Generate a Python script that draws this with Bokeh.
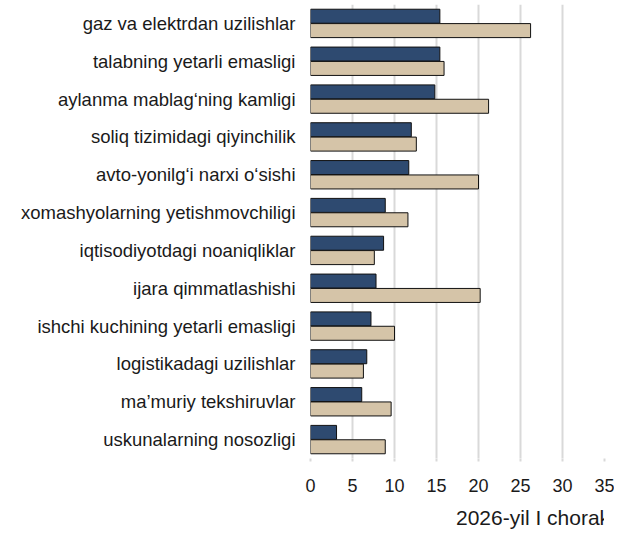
from bokeh.plotting import figure
from bokeh.models import ColumnDataSource, FactorRange, Legend, LegendItem, Range1d, FixedTicker
from bokeh.layouts import column
from bokeh.transform import dodge
from bokeh.embed import file_html
from bokeh.resources import INLINE

categories = [
    "gaz va elektrdan uzilishlar",
    "talabning yetarli emasligi",
    "aylanma mablag\u2018ning kamligi",
    "soliq tizimidagi qiyinchilik",
    "avto-yonilg\u2018i narxi o\u2018sishi",
    "xomashyolarning yetishmovchiligi",
    "iqtisodiyotdagi noaniqliklar",
    "ijara qimmatlashishi",
    "ishchi kuchining yetarli emasligi",
    "logistikadagi uzilishlar",
    "ma\u2019muriy tekshiruvlar",
    "uskunalarning nosozligi",
]
series_2026 = [15.4, 15.4, 14.8, 12.0, 11.7, 8.9, 8.7, 7.8, 7.2, 6.7, 6.1, 3.1]
series_2025 = [26.2, 15.9, 21.2, 12.6, 20.0, 11.6, 7.6, 20.2, 10.0, 6.3, 9.6, 8.9]
series_names = ["2026-yil I chorak", "2025-yil I chorak"]
x_ticks = [0, 5, 10, 15, 20, 25, 30, 35]

FONT = "Liberation Sans"
BLUE = "#2E4A70"
BEIGE = "#D5C4A8"
GRID = "#D9D9D9"

src = ColumnDataSource(dict(cat=categories, a=series_2026, b=series_2025))

p = figure(
    width=614, height=500,
    y_range=FactorRange(*list(reversed(categories))),
    x_range=Range1d(0, 35),
    output_backend="svg", toolbar_location=None,
    min_border_left=310, min_border_right=10, min_border_top=4, min_border_bottom=42,
)
p.outline_line_color = None
p.y_range.range_padding = 0

r1 = p.hbar(y=dodge("cat", 0.19, range=p.y_range), right="a", left=0, height=0.37,
            source=src, fill_color=BLUE, line_color="#111111", line_width=1)
r2 = p.hbar(y=dodge("cat", -0.19, range=p.y_range), right="b", left=0, height=0.37,
            source=src, fill_color=BEIGE, line_color="#111111", line_width=1)

p.xaxis.ticker = FixedTicker(ticks=x_ticks)
p.xaxis.axis_line_color = None
p.xaxis.major_tick_line_color = GRID
p.xaxis.major_tick_line_width = 2
p.xaxis.major_tick_out = 3
p.xaxis.major_tick_in = 0
p.xaxis.minor_tick_line_color = None
p.xaxis.major_label_text_font = FONT
p.xaxis.major_label_text_font_size = "18px"
p.xaxis.major_label_text_color = "#1a1a1a"
p.xaxis.major_label_standoff = 17

p.yaxis.axis_line_color = None
p.yaxis.major_tick_line_color = None
p.yaxis.major_tick_out = 0
p.yaxis.major_tick_in = 0
p.yaxis.minor_tick_line_color = None
p.yaxis.major_label_text_font = FONT
p.yaxis.major_label_text_font_size = "18.5px"
p.yaxis.major_label_text_color = "#1a1a1a"
p.yaxis.major_label_standoff = 15

p.xgrid.grid_line_color = GRID
p.xgrid.grid_line_width = 2
p.ygrid.grid_line_color = None

# Legend lives in a small companion figure below the chart
lf = figure(
    width=614, height=34, x_range=Range1d(0, 1), y_range=Range1d(0, 1),
    x_axis_type=None, y_axis_type=None,
    output_backend="svg", toolbar_location=None,
    min_border_left=0, min_border_right=0, min_border_top=0, min_border_bottom=0,
)
lf.outline_line_color = None
lf.xgrid.grid_line_color = None
lf.ygrid.grid_line_color = None
lr1 = lf.hbar(y=[], right=[], left=0, height=0.5, fill_color=BLUE, line_color="#111111", line_width=1)
lr2 = lf.hbar(y=[], right=[], left=0, height=0.5, fill_color=BEIGE, line_color="#111111", line_width=1)

legend = Legend(
    items=[LegendItem(label=series_names[0], renderers=[lr1]),
           LegendItem(label=series_names[1], renderers=[lr2])],
    orientation="horizontal", location=(131, 4),
    label_text_font=FONT, label_text_font_size="21px", label_text_color="#1a1a1a",
    glyph_width=11, glyph_height=11, spacing=36, label_standoff=4,
    border_line_color=None, background_fill_alpha=0, padding=0, margin=0,
)
lf.add_layout(legend, "center")

layout = column(p, lf, spacing=0)
open("out.html", "w").write(file_html(layout, INLINE))
